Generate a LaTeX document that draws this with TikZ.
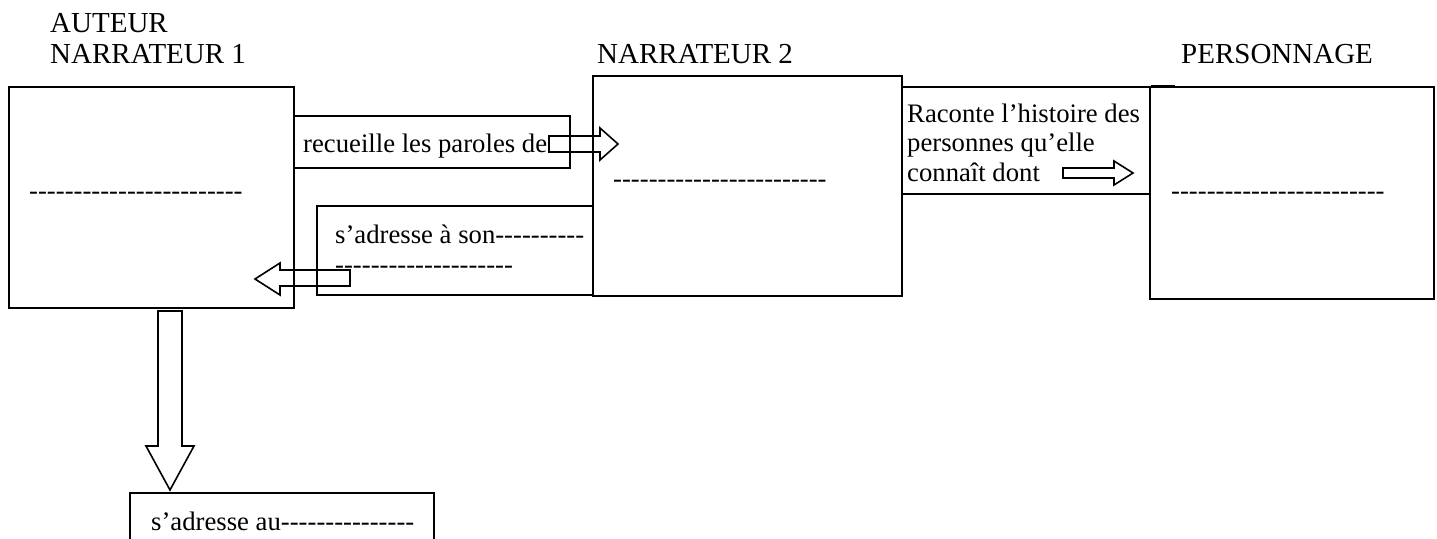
\documentclass[tikz,border=0pt]{standalone}
\usepackage{fontspec}
\setmainfont{Liberation Serif}
\newcommand\hyphens[1]{\foreach\i in {1,...,#1}{-{}}}
\begin{document}
\begin{tikzpicture}[x=1pt,y=-1pt,
  box/.style={draw, line width=1.8pt, inner sep=0pt, anchor=north west},
  lbl/.style={anchor=base west, inner sep=0pt, font=\fontsize{26.7}{29.5}\selectfont},
  title/.style={anchor=base west, inner sep=0pt, font=\fontsize{29}{32}\selectfont},
  blockarrow/.style={draw, line width=1.6pt, line join=miter}]
\useasboundingbox (0,0) rectangle (1437,538);
% boxes
\node[box, minimum width=285pt, minimum height=221pt] (b1) at (8,86) {};
\node[box, minimum width=276pt, minimum height=52pt] (c1) at (293,115) {};
\node[box, minimum width=309pt, minimum height=220pt] (b2) at (592,75) {};
\node[box, minimum width=276pt, minimum height=89pt] (c2) at (316,205) {};
\node[box, minimum width=248pt, minimum height=107pt] (c3) at (901,86) {};
\node[box, minimum width=284pt, minimum height=212pt] (b3) at (1149,86) {};
\node[box, minimum width=304pt, minimum height=70pt] (b4) at (129,492) {};
\draw[line width=1.8pt] (c2.south east) -- ++(16,0);
\draw[line width=1.8pt] (c3.north east) -- ++(24,0);
% block arrows
\draw[blockarrow] (549,136)--(600,136)--(600,128)--(618,144)--(600,160)--(600,152)--(549,152)--cycle;
\draw[blockarrow] (350,270)--(280,270)--(280,263)--(255,279)--(280,295)--(280,286)--(350,286)--cycle;
\draw[blockarrow] (1063,168)--(1114,168)--(1114,161)--(1133,173)--(1114,185)--(1114,178)--(1063,178)--cycle;
\draw[blockarrow] (158,311)--(182,311)--(182,446)--(194,446)--(170,490)--(146,446)--(158,446)--cycle;
% labels
\node[title] (tAut) at (50,32) {AUTEUR};
\node[title] (tN1) at (50,63) {NARRATEUR 1};
\node[title] (tN2) at (597,63) {NARRATEUR 2};
\node[title] (tP) at (1181,63) {PERSONNAGE};
\node[lbl] (d1) at (29,199) {\hyphens{24}};
\node[lbl] (d2) at (613,187) {\hyphens{24}};
\node[lbl] (d3) at (1171,199) {\hyphens{24}};
\node[lbl] (t1) at (303,152) {recueille les paroles de};
\node[lbl] (t2) at (335,243) {s’adresse à son\hyphens{10}};
\node[lbl] (t2b) at (335,273) {\hyphens{20}};
\node[lbl] (t3a) at (907,122) {Raconte l’histoire des};
\node[lbl] (t3b) at (907,151) {personnes qu’elle};
\node[lbl] (t3c) at (907,181) {connaît dont};
\node[lbl] (t4) at (151,530) {s’adresse au\hyphens{15}};
\end{tikzpicture}
\end{document}
